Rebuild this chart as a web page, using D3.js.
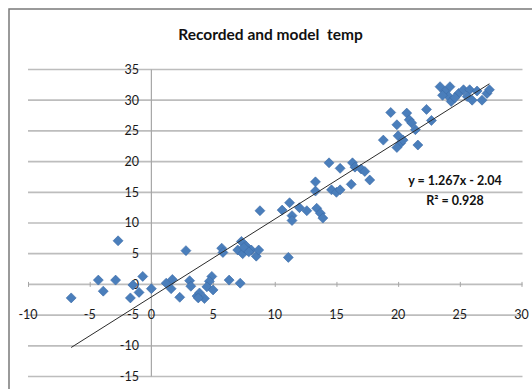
<!DOCTYPE html>
<html>
<head>
<meta charset="utf-8">
<script src="https://cdn.jsdelivr.net/npm/d3@7"></script>
<style>
  html, body { margin: 0; padding: 0; background: #fff; }
  svg { display: block; }
</style>
</head>
<body>
<script>
// ---- Data ----
const titleText = "Recorded and model\u00a0 temp";
const recorded = [-6.5, -4.3, -3.9, -2.9, -2.7, -1.7, -1.5, -1.0, -0.7, 0.0,
  1.2, 1.7, 1.6, 2.3, 2.8, 3.1, 3.2, 3.7, 3.9, 4.3, 3.8, 4.9, 4.7, 4.5, 5.0,
  6.3, 7.2,
  5.7, 5.8, 7.3, 7.0, 7.7, 7.4, 8.1, 8.5, 8.7, 7.5, 7.9, 8.8, 11.1,
  10.6, 11.2, 11.4, 11.4, 12.0, 12.6, 13.4, 13.7, 13.9,
  13.3, 13.3, 14.6, 15.0, 15.3, 16.2, 14.4, 15.3, 16.3, 16.5, 17.0, 17.3, 17.7,
  18.8, 19.9, 20.0, 20.2, 19.9, 21.4, 21.6, 19.4, 20.7, 20.9, 21.1, 20.4, 22.3, 22.7,
  23.4, 24.2, 23.8, 24.1, 24.3, 24.9, 25.3, 25.8, 25.6, 26.0, 26.8, 27.2, 27.4, 23.6, 24.6, 26.4];
const model = [-2.2, 0.7, -1.1, 0.7, 7.1, -2.2, -0.1, -1.3, 1.3, -0.7,
  0.2, 0.8, -0.7, -2.1, 5.5, 0.6, -0.3, -1.9, -1.4, -2.3, -2.2, 1.3, 0.5, -0.4, -0.9,
  0.7, 0.2,
  5.9, 5.2, 7.0, 5.6, 6.2, 5.0, 5.6, 4.6, 5.6, 6.0, 5.3, 12.0, 4.4,
  12.1, 13.3, 11.2, 10.4, 12.5, 12.0, 12.4, 11.6, 10.8,
  16.7, 15.2, 15.4, 15.0, 15.4, 16.3, 19.8, 18.9, 19.8, 19.1, 18.8, 18.4, 17.0,
  23.5, 26.0, 24.2, 23.0, 22.3, 25.2, 22.7, 28.0, 27.9, 26.8, 26.3, 23.5, 28.5, 26.7,
  32.2, 32.2, 31.4, 30.6, 29.8, 31.1, 31.7, 31.7, 30.6, 30.0, 30.0, 31.1, 31.7, 30.8, 30.4, 31.5];
const xTicks = [-10, -5, 0, 5, 10, 15, 20, 25, 30];
const yTicks = [-15, -10, -5, 0, 5, 10, 15, 20, 25, 30, 35];
const trendSlope = 1.267;
const trendIntercept = -2.04;
const equationLines = ["y = 1.267x - 2.04", "R\u00b2 = 0.928"];

// ---- Drawing ----
const W = 532, H = 389;
const svg = d3.select("body").append("svg").attr("width", W).attr("height", H);

// chart frame (extends past right/bottom edge like the crop)
svg.append("rect").attr("x", 9).attr("y", 9).attr("width", 600).attr("height", 500)
  .attr("fill", "#fff").attr("stroke", "#7a7a7a").attr("stroke-width", 1.5);

const x = d3.scaleLinear().domain([-10, 30]).range([28, 521.5]);
const y = d3.scaleLinear().domain([-15, 35]).range([376.5, 69.5]);

// gridlines
svg.append("g").selectAll("line").data(yTicks).join("line")
  .attr("x1", x(-10)).attr("x2", x(30) + 1)
  .attr("y1", d => y(d)).attr("y2", d => y(d))
  .attr("stroke", "#bdbdbd").attr("stroke-width", 1.7);

// vertical axis at x=0
svg.append("line").attr("x1", x(0)).attr("x2", x(0))
  .attr("y1", y(35)).attr("y2", y(-15))
  .attr("stroke", "#a6a6a6").attr("stroke-width", 1.2);

// x axis (at y=0) using d3 axis for tick marks only
const xAxis = d3.axisBottom(x).tickValues(xTicks).tickSize(5).tickFormat("");
const gx = svg.append("g").attr("transform", `translate(0,${y(0) - 2.5})`).call(xAxis);
gx.select(".domain").remove();
gx.selectAll(".tick line").attr("stroke", "#a6a6a6").attr("stroke-width", 1);

// x tick labels (sitting on the -5 gridline)
svg.append("g").selectAll("text").data(xTicks).join("text")
  .attr("x", d => x(d)).attr("y", y(-5))
  .attr("dy", "0.35em").attr("text-anchor", "middle")
  .attr("font-family", "Lato, 'Open Sans', sans-serif").attr("font-size", 12.5)
  .attr("fill", "#1a1a1a")
  .text(d => d);

// y tick labels
svg.append("g").selectAll("text").data(yTicks).join("text")
  .attr("x", 139).attr("y", d => y(d))
  .attr("dy", "0.35em").attr("text-anchor", "end")
  .attr("font-family", "Lato, 'Open Sans', sans-serif").attr("font-size", 12.5)
  .attr("fill", "#1a1a1a")
  .text(d => d);

// points: square diamonds
const pts = recorded.map((v, i) => [v, model[i]]);
const r = 5;
const diamondPath = `M0,${-r}L${r},0L0,${r}L${-r},0Z`;
svg.append("g").selectAll("path").data(pts).join("path")
  .attr("d", diamondPath)
  .attr("transform", d => `translate(${x(d[0])},${y(d[1])})`)
  .attr("fill", "#4a7ebb").attr("stroke", "#3b6aa6").attr("stroke-width", 0.6);

// trendline across data extent
const xr = d3.extent(recorded);
svg.append("line")
  .attr("x1", x(xr[0])).attr("y1", y(trendSlope * xr[0] + trendIntercept))
  .attr("x2", x(xr[1])).attr("y2", y(trendSlope * xr[1] + trendIntercept))
  .attr("stroke", "#2b2b2b").attr("stroke-width", 1);

// equation
svg.append("g").selectAll("text").data(equationLines).join("text")
  .attr("x", 455).attr("y", (d, i) => 181 + i * 19.5)
  .attr("dy", "0.35em").attr("text-anchor", "middle")
  .attr("font-family", "Lato, 'Open Sans', sans-serif").attr("font-size", 12.5)
  .attr("font-weight", "bold").attr("fill", "#111")
  .text(d => d);

// title
svg.append("text").attr("x", 270.5).attr("y", 35).attr("dy", "0.35em")
  .attr("text-anchor", "middle")
  .attr("font-family", "Lato, 'Open Sans', sans-serif").attr("font-size", 15.5)
  .attr("font-weight", "bold").attr("fill", "#111")
  .text(titleText);
</script>
</body>
</html>
